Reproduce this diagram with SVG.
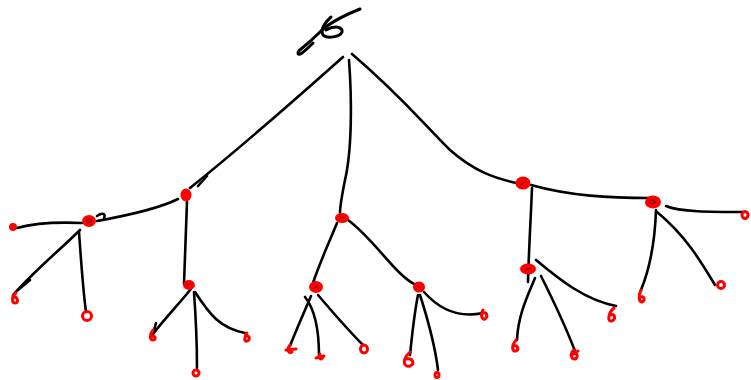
<svg xmlns="http://www.w3.org/2000/svg" width="751" height="380" viewBox="0 0 751 380">
<style>
.e{fill:none;stroke:#000;stroke-width:2.6;stroke-linecap:round;stroke-linejoin:round}
.n{fill:none;stroke:#f00;stroke-width:3;stroke-linecap:round;stroke-linejoin:round}
.nb{fill:#f00;stroke:#f00;stroke-width:2}
.d{fill:none;stroke:#600;stroke-width:1;stroke-linecap:round}
.r{fill:none;stroke:#000;stroke-width:3;stroke-linecap:round;stroke-linejoin:round}
</style>
<rect width="751" height="380" fill="#fff"/>
<g id="connectors">
<path class="e" d="M343,57 C300,95 250,140 190,188"/>
<path class="e" d="M198,186 L207,176"/>
<path class="e" d="M349,60 C352,100 352,150 345,180 C342,195 340,205 340,213"/>
<path class="e" d="M352,54 C400,95 420,120 450,150 C475,172 495,178 516,183"/>
<path class="e" d="M178,199 C160,208 130,215 97,221"/>
<path class="e" d="M187,202 C186,230 185,255 184,284"/>
<path class="e" d="M82,223 C60,222 35,223 17,228"/>
<path class="e" d="M80,230 C60,250 35,270 13,295"/>
<path class="e" d="M18,290 L30,280"/>
<path class="e" d="M79,232 C81,260 83,290 86,312"/>
<path class="e" d="M97,216 C103,212 106,214 104,218"/>
<path class="e" d="M191,289 C178,305 165,318 153,334"/>
<path class="e" d="M153,334 L156,323"/>
<path class="e" d="M194,292 C196,320 197,345 197,368"/>
<path class="e" d="M195,292 C210,315 220,328 245,333"/>
<path class="e" d="M337,223 C328,245 320,262 313,283"/>
<path class="e" d="M348,220 C375,240 395,275 416,285"/>
<path class="e" d="M311,296 C303,315 296,330 290,346"/>
<path class="e" d="M305,297 C317,312 319,335 319,356"/>
<path class="e" d="M318,295 C335,315 350,332 363,345"/>
<path class="e" d="M418,295 C414,315 412,335 410,355"/>
<path class="e" d="M420,295 C428,320 435,345 438,370"/>
<path class="e" d="M424,292 C440,310 460,318 483,313"/>
<path class="e" d="M532,188 C531,215 529,245 528,282"/>
<path class="e" d="M531,185 C570,196 610,198 650,198"/>
<path class="e" d="M666,206 C680,212 710,212 745,212"/>
<path class="e" d="M656,210 C655,240 650,268 641,290"/>
<path class="e" d="M657,212 C685,235 700,260 715,285"/>
<path class="e" d="M535,278 C528,295 518,315 517,340"/>
<path class="e" d="M541,276 C553,300 565,325 575,351"/>
<path class="e" d="M536,260 C560,280 585,300 616,306"/>
</g>
<g id="root">
<path class="r" d="M360,9 C345,15 330,22 320,32 C312,40 306,45 301,49 C296,53 298,56 302,53 C306,50 310,46 313,43"/>
<path class="r" d="M331,17 C325,22 320,30 323,35 C327,39 340,37 342,32 C343,27 335,25 326,30"/>
</g>
<g id="nA"><ellipse class="nb" cx="186" cy="195" rx="4.5" ry="5.5"/></g>
<g id="nB"><ellipse class="nb" cx="89" cy="221" rx="6" ry="5"/><ellipse class="d" cx="89" cy="221" rx="2.5" ry="2"/></g>
<g id="nC"><ellipse class="nb" cx="189" cy="285" rx="5" ry="4"/><path class="d" d="M187,285 L190,284"/></g>
<g id="nD"><ellipse class="nb" cx="342" cy="218" rx="6" ry="4"/><path class="d" d="M340,218 L344,217"/></g>
<g id="nE"><ellipse class="nb" cx="316" cy="287" rx="6" ry="5"/><path class="d" d="M314,288 L318,286"/></g>
<g id="nF"><ellipse class="nb" cx="419" cy="287" rx="5" ry="4.5"/><path class="d" d="M418,286 L420,288"/></g>
<g id="nG"><ellipse class="nb" cx="523" cy="183" rx="6.5" ry="5.5"/><path class="d" d="M520,186 L526,180"/></g>
<g id="nH"><ellipse class="nb" cx="653" cy="202" rx="7" ry="5.5"/><ellipse class="d" cx="652" cy="202" rx="3" ry="2"/></g>
<g id="nI"><ellipse class="nb" cx="528" cy="269" rx="7" ry="4.5"/><path class="d" d="M525,270 L531,268"/></g>
<g id="l1"><ellipse class="nb" cx="13" cy="227" rx="3" ry="3"/></g>
<g id="l2"><path class="n" d="M16,293 C11,296 12,303 15,303 C19,303 18,297 14,297"/></g>
<g id="l3"><ellipse class="n" cx="87" cy="316" rx="4.5" ry="4.5"/></g>
<g id="l4"><path class="n" d="M153,330 C149,335 150,340 153,340 C156,340 156,336 152,336"/></g>
<g id="l5"><ellipse class="n" cx="196" cy="373" rx="3" ry="3"/></g>
<g id="l6"><path class="n" d="M247,333 C244,337 244,342 247,341 C250,340 250,336 247,336"/></g>
<g id="l7"><path class="n" d="M286,350 L296,349 M290,345 C286,350 289,354 292,352"/></g>
<g id="l8"><path class="n" d="M316,358 L324,356 M320,354 C318,358 321,361 323,357"/></g>
<g id="l9"><ellipse class="n" cx="364" cy="349" rx="3.5" ry="4"/></g>
<g id="l10"><path class="n" d="M410,352 C401,360 404,368 410,366 C415,364 413,358 407,359"/></g>
<g id="l11"><ellipse class="n" cx="437" cy="375" rx="2" ry="2.5"/></g>
<g id="l12"><path class="n" d="M483,310 C480,315 482,320 485,319 C488,317 487,312 484,313"/></g>
<g id="l13"><path class="n" d="M516,340 C511,346 512,352 516,351 C519,350 518,345 514,346"/></g>
<g id="l14"><path class="n" d="M574,350 C570,353 571,360 575,359 C578,358 578,352 574,354 M571,355 L578,351"/></g>
<g id="l15"><path class="n" d="M614,308 C608,313 607,322 612,321 C616,319 615,313 611,315"/></g>
<g id="l16"><path class="n" d="M641,290 C638,296 639,302 642,302 C645,301 645,296 641,297"/></g>
<g id="l17"><ellipse class="n" cx="721" cy="285" rx="3.5" ry="3.5"/></g>
<g id="l18"><ellipse class="n" cx="745" cy="215" rx="3" ry="3.5"/></g>
</svg>
